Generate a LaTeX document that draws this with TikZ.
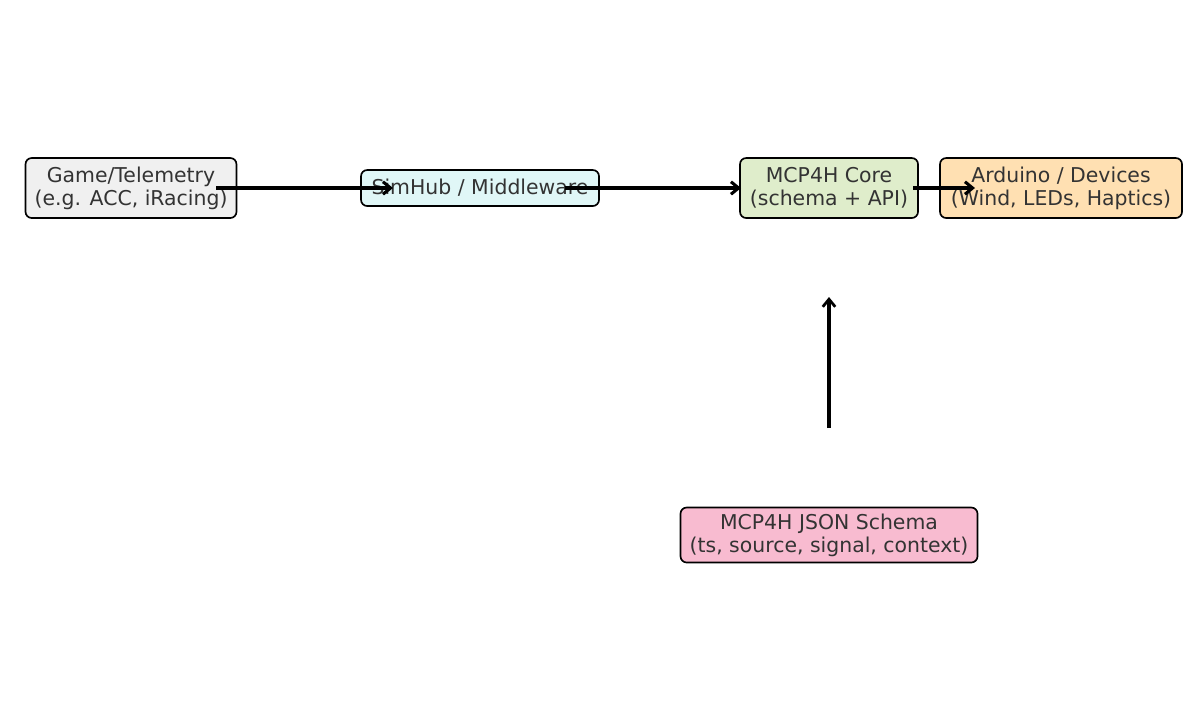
\documentclass[tikz,border=0pt]{standalone}
\usepackage{fontspec}
\setmainfont{DejaVu Sans}
\usetikzlibrary{arrows.meta,calc}
\definecolor{txt}{HTML}{333333}
\definecolor{cgame}{HTML}{F0F0F0}
\definecolor{csim}{HTML}{E0F7F7}
\definecolor{ccore}{HTML}{DFEDCB}
\definecolor{cdev}{HTML}{FFE0B2}
\definecolor{cschema}{HTML}{F8BBD0}
\begin{document}
\begin{tikzpicture}[x=0.72pt,y=-0.72pt,
  box/.style={draw=black,line width=1.2pt,rounded corners=4.5pt,inner sep=0pt,align=center,
    text=txt,font=\fontsize{14.7}{16.6}\selectfont},
  conn/.style={-{Straight Barb[length=5.5pt,width=9pt,line width=2.2pt]},line width=2.7pt},
  connv/.style={-{Straight Barb[length=5.5pt,width=9pt,line width=2pt]},line width=2.2pt}]
\useasboundingbox (0,0) rectangle (1192,723);
\node[box,fill=cgame,minimum width=211*0.72pt,minimum height=60*0.72pt] (game) at (131,188) {Game/Telemetry\\(e.g. ACC, iRacing)};
\node[box,fill=csim,minimum width=238*0.72pt,minimum height=36*0.72pt] (sim) at (480,188) {SimHub / Middleware};
\node[box,fill=ccore,minimum width=178*0.72pt,minimum height=60*0.72pt] (core) at (829,188) {MCP4H Core\\(schema + API)};
\node[box,fill=cdev,minimum width=242*0.72pt,minimum height=60*0.72pt] (dev) at (1061,188) {Arduino / Devices\\(Wind, LEDs, Haptics)};
\node[box,fill=cschema,minimum width=297*0.72pt,minimum height=55*0.72pt] (schema) at (829,535) {MCP4H JSON Schema\\(ts, source, signal, context)};
\draw[conn] ($(game.center)+(85,0)$) -- ($(sim.center)+(-87,0)$);
\draw[conn] ($(sim.center)+(85,0)$) -- ($(core.center)+(-88,0)$);
\draw[conn] ($(core.center)+(84,0)$) -- ($(dev.center)+(-86,0)$);
\draw[connv] ($(schema.center)+(0,-107)$) -- ($(core.center)+(0,109)$);
\end{tikzpicture}
\end{document}
